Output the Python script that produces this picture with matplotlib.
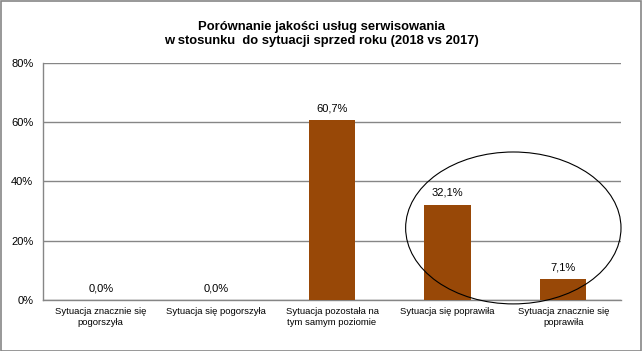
import matplotlib
matplotlib.use("Agg")
import matplotlib.pyplot as plt
from matplotlib.patches import Ellipse, Rectangle

categories = ["Sytuacja znacznie się\npogorszyła", "Sytuacja się pogorszyła",
              "Sytuacja pozostała na\ntym samym poziomie", "Sytuacja się poprawiła",
              "Sytuacja znacznie się\npoprawiła"]
values = [0.0, 0.0, 60.7, 32.1, 7.1]
value_labels = ["0,0%", "0,0%", "60,7%", "32,1%", "7,1%"]
yticks = [0, 20, 40, 60, 80]
ytick_labels = ["0%", "20%", "40%", "60%", "80%"]
title = "Porównanie jakości usług serwisowania\nw stosunku  do sytuacji sprzed roku (2018 vs 2017)"

plt.rcParams['font.family'] = ['Liberation Sans', 'DejaVu Sans']
W, H = 642, 351
fig = plt.figure(figsize=(W/100, H/100), dpi=100)
ax = fig.add_axes([43/W, 1-300/H, (621-43)/W, (300-63)/H])

x = list(range(len(categories)))
ax.bar(x, values, width=0.4, color="#984807", zorder=3)
ax.set_xlim(-0.5, len(categories)-0.5)
ax.set_ylim(0, 80)
ax.set_yticks(yticks)
ax.set_yticklabels(ytick_labels, fontsize=8)
ax.set_xticks(x)
ax.set_xticklabels(categories, fontsize=6.8, linespacing=1.35)
ax.tick_params(axis='both', length=0, pad=5)
ax.tick_params(axis='y', pad=7)
ax.grid(axis='y', color="#868686", linewidth=1, zorder=0)
for s in ['top', 'right']:
    ax.spines[s].set_visible(False)
for s in ['left', 'bottom']:
    ax.spines[s].set_color("#868686")
    ax.spines[s].set_linewidth(1)

for xi, v, lab in zip(x, values, value_labels):
    ax.annotate(lab, (xi, v), xytext=(0, 5), textcoords='offset points',
                ha='center', va='bottom', fontsize=8)

ell = Ellipse((0.8137, 0.304), 0.3726, 0.641, transform=ax.transAxes,
              fill=False, edgecolor='black', linewidth=0.8, zorder=5, clip_on=False)
ax.add_patch(ell)

fig.text(0.5, 1-34/H, title, ha='center', va='center', fontsize=9.4, fontweight='bold',
         linespacing=1.3)

fig.patches.append(Rectangle((0.5/W, 0.5/H), 1-1.5/W, 1-1.5/H, transform=fig.transFigure,
                             fill=False, edgecolor="#868686", linewidth=1.2))

fig.savefig("out.png", dpi=100)
